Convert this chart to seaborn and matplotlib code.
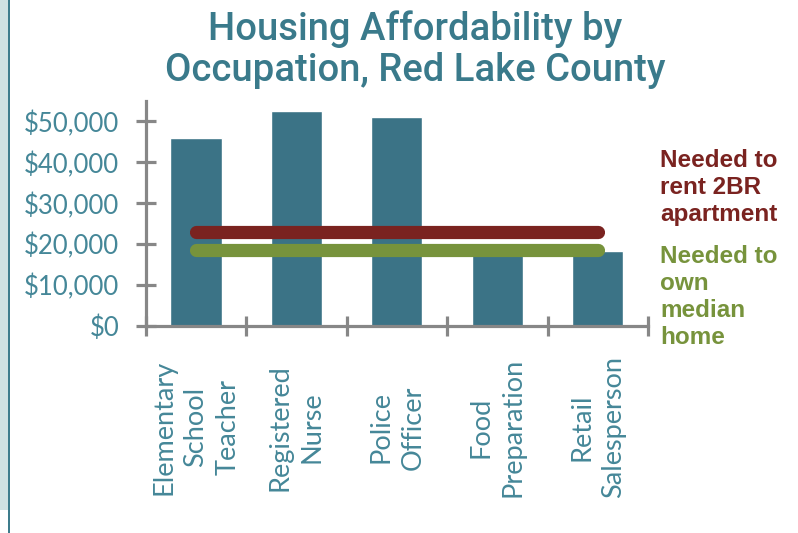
import matplotlib
matplotlib.use("Agg")
import matplotlib.pyplot as plt
from matplotlib.patches import Rectangle
import seaborn as sns
import pandas as pd

categories = ["Elementary\nSchool\nTeacher", "Registered\nNurse", "Police\nOfficer",
              "Food\nPreparation", "Retail\nSalesperson"]
wages = [46000, 52500, 51000, 18000, 18400]
rent_2br = 23000
own_home = 18700
y_ticks = [0, 10000, 20000, 30000, 40000, 50000]
y_tick_labels = ["$0", "$10,000", "$20,000", "$30,000", "$40,000", "$50,000"]

BAR = "#3B7386"
RED = "#7A2320"
GREEN = "#77933C"
TEAL_TXT = "#458798"
TITLE = "#3A7A8B"
AXIS = "#878787"

sns.set_theme(style="white")
plt.rcParams["font.family"] = ["Lato", "DejaVu Sans"]

fig = plt.figure(figsize=(7.98, 5.33), dpi=100)
ax = fig.add_axes([145.7 / 798, (533 - 326) / 533, (648 - 145.7) / 798, (326 - 101) / 533])

df = pd.DataFrame({"occupation": categories, "wage": wages})
sns.barplot(data=df, x="occupation", y="wage", color=BAR, saturation=1, width=0.51, ax=ax)

ax.plot([0, 4], [rent_2br, rent_2br], color=RED, lw=9.5, solid_capstyle="round", zorder=5)
ax.plot([0, 4], [own_home, own_home], color=GREEN, lw=9.5, solid_capstyle="round", zorder=5)

ax.set_xlim(-0.5, 4.5)
ax.set_ylim(0, 55000)
ax.set_xlabel("")
ax.set_ylabel("")

for s in ["top", "right"]:
    ax.spines[s].set_visible(False)
for s in ["left", "bottom"]:
    ax.spines[s].set_color(AXIS)
    ax.spines[s].set_linewidth(2.3)

ax.set_yticks(y_ticks)
ax.set_yticklabels(y_tick_labels, color=TEAL_TXT, fontsize=18.5)
ax.tick_params(axis="y", direction="inout", length=14, width=2.3, color=AXIS, pad=12, left=True)

ax.set_xticks(range(len(categories)))
ax.set_xticklabels(categories, rotation=90, color=TEAL_TXT, fontsize=19.5,
                   va="center", ha="center", multialignment="center", linespacing=1.35)
ax.tick_params(axis="x", length=0, pad=73)
ax.set_xticks([-0.5, 0.5, 1.5, 2.5, 3.5, 4.5], minor=True)
ax.tick_params(axis="x", which="minor", direction="inout", length=14, width=2.3, color=AXIS, bottom=True)

fig.text(415 / 798, 1 - 10 / 533, "Housing Affordability by\nOccupation, Red Lake County",
         ha="center", va="top", color=TITLE, fontsize=27.5, linespacing=1.15,
         family=["Roboto", "DejaVu Sans"], fontweight="medium")

fig.text(660 / 798, 1 - 149 / 533, "Needed to\nrent 2BR\napartment", ha="left", va="top",
         color=RED, fontsize=17.5, fontweight="bold", linespacing=1.22,
         family=["Liberation Sans", "DejaVu Sans"])
fig.text(660 / 798, 1 - 245 / 533, "Needed to\nown\nmedian\nhome", ha="left", va="top",
         color=GREEN, fontsize=17.5, fontweight="bold", linespacing=1.22,
         family=["Liberation Sans", "DejaVu Sans"])

fig.add_artist(Rectangle((0, 23 / 533), 7.5 / 798, 1 - 23 / 533, transform=fig.transFigure,
                         facecolor="#CFE1E2", edgecolor="none"))
fig.add_artist(Rectangle((7.5 / 798, 0), 2.5 / 798, 1, transform=fig.transFigure,
                         facecolor="#3E7C8C", edgecolor="none"))

fig.savefig("out.png", dpi=100)
